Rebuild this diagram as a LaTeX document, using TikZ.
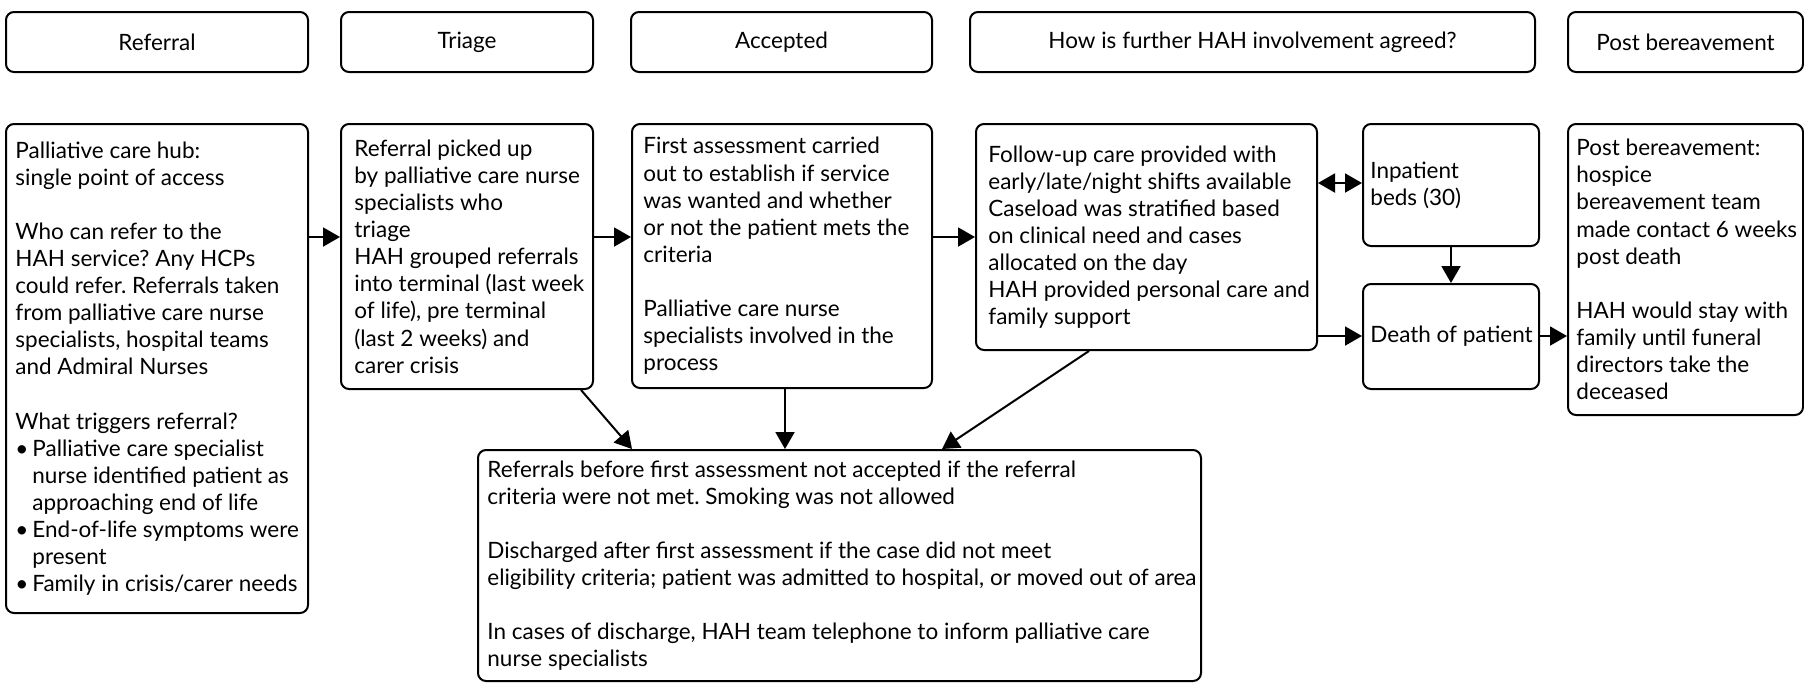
\documentclass[tikz,border=0pt]{standalone}
\usepackage{fontspec}
\setmainfont{Lato}
\usetikzlibrary{arrows.meta}
\frenchspacing
\newcommand{\bul}{\makebox[8.5pt][l]{\textbullet}}
\newcommand{\ind}{\hspace*{8.5pt}}
\begin{document}
\begin{tikzpicture}[x=0.5pt,y=-0.5pt,
  box/.style={draw=black, line width=1pt, rounded corners=4pt, anchor=north west, inner sep=0pt},
  txt/.style={anchor=west, align=left, inner sep=0pt, font=\fontsize{11.25}{13.55}\selectfont},
  head/.style={box, font=\fontsize{11.25}{13.55}\selectfont, minimum height=30pt},
  arr/.style={line width=1pt, -{Triangle[length=8.5pt,width=9.5pt]}},
  dbl/.style={line width=1pt, {Triangle[length=8.5pt,width=9.5pt]}-{Triangle[length=8.5pt,width=9.5pt]}}
]
\useasboundingbox (0,0) rectangle (1804,682);

% stage headings
\node[head, minimum width=151pt]   (hRef)  at (5,11)    {Referral};
\node[head, minimum width=126pt]   (hTri)  at (340,11)  {Triage};
\node[head, minimum width=150.5pt] (hAcc)  at (630,11)  {Accepted};
\node[head, minimum width=282.5pt] (hHow)  at (969,11)  {How is further HAH involvement agreed?};
\node[head, minimum width=117.5pt] (hPost) at (1567,11) {Post bereavement};

% process boxes
\node[box, minimum width=151pt,   minimum height=244.5pt] (hub)   at (5,123)    {};
\node[box, minimum width=126pt,   minimum height=132.5pt] (tri)   at (340,123)  {};
\node[box, minimum width=150pt,   minimum height=132pt]   (acc)   at (631,123)  {};
\node[box, minimum width=170.5pt, minimum height=113pt]   (fol)   at (975,123)  {};
\node[box, minimum width=88pt,    minimum height=61pt]    (inp)   at (1362,123) {};
\node[box, minimum width=88pt,    minimum height=52.5pt]  (death) at (1362,283) {};
\node[box, minimum width=117.5pt, minimum height=145.5pt] (post)  at (1567,123) {};
\node[box, minimum width=361.5pt, minimum height=115.5pt] (disc)  at (477,449)  {};

% box texts
\node[txt] (hubT) at ([xshift=5pt]hub.west) {Palliative care hub:\\
single point of access\\[13.55pt]
Who can refer to the\\
HAH service? Any HCPs\\
could refer. Referrals taken\\
from palliative care nurse\\
specialists, hospital teams\\
and Admiral Nurses\\[13.55pt]
What triggers referral?\\
\bul Palliative care specialist\\
\ind nurse identified patient as\\
\ind approaching end of life\\
\bul End-of-life symptoms were\\
\ind present\\
\bul Family in crisis/carer needs};

\node[txt] (triT) at ([xshift=7pt]tri.west) {Referral picked up\\
by palliative care nurse\\
specialists who\\
triage\\
HAH grouped referrals\\
into terminal (last week\\
of life), pre terminal\\
(last 2 weeks) and\\
carer crisis};

\node[txt] (accT) at ([xshift=6pt]acc.west) {First assessment carried\\
out to establish if service\\
was wanted and whether\\
or not the patient mets the\\
criteria\\[13.55pt]
Palliative care nurse\\
specialists involved in the\\
process};

\node[txt] (folT) at ([xshift=6.5pt]fol.west) {Follow-up care provided with\\
early/late/night shifts available\\
Caseload was stratified based\\
on clinical need and cases\\
allocated on the day\\
HAH provided personal care and\\
family support};

\node[txt] (inpT) at ([xshift=4pt]inp.west) {Inpatient\\beds (30)};
\node[txt] (deathT) at ([xshift=4pt]death.west) {Death of patient};

\node[txt] (postT) at ([xshift=4.5pt]post.west) {Post bereavement:\\
hospice\\
bereavement team\\
made contact 6 weeks\\
post death\\[13.55pt]
HAH would stay with\\
family until funeral\\
directors take the\\
deceased};

\node[txt] (discT) at ([xshift=5pt]disc.west) {Referrals before first assessment not accepted if the referral\\
criteria were not met. Smoking was not allowed\\[13.55pt]
Discharged after first assessment if the case did not meet\\
eligibility criteria; patient was admitted to hospital, or moved out of area\\[13.55pt]
In cases of discharge, HAH team telephone to inform palliative care\\
nurse specialists};

% reference levels for the connectors
\coordinate (yA) at (0,237);
\coordinate (yB) at (0,183);
\coordinate (yC) at (0,336);
\coordinate (xA) at (581,0);
\coordinate (xB) at (632,0);
\coordinate (xC) at (785,0);
\coordinate (xD) at (1089,0);
\coordinate (xE) at (942,0);

% connectors
\draw[arr] (hub.east |- yA) -- (tri.west |- yA);
\draw[arr] (tri.east |- yA) -- (acc.west |- yA);
\draw[arr] (acc.east |- yA) -- (fol.west |- yA);
\draw[dbl] (fol.east |- yB) -- (inp.west |- yB);
\draw[arr] (inp.south) -- (death.north);
\draw[arr] (fol.east |- yC) -- (death.west |- yC);
\draw[arr] (death.east |- yC) -- (post.west |- yC);
\draw[arr] (tri.south -| xA) -- (disc.north -| xB);
\draw[arr] (acc.south -| xC) -- (disc.north -| xC);
\draw[arr] (fol.south -| xD) -- (disc.north -| xE);
\end{tikzpicture}
\end{document}
